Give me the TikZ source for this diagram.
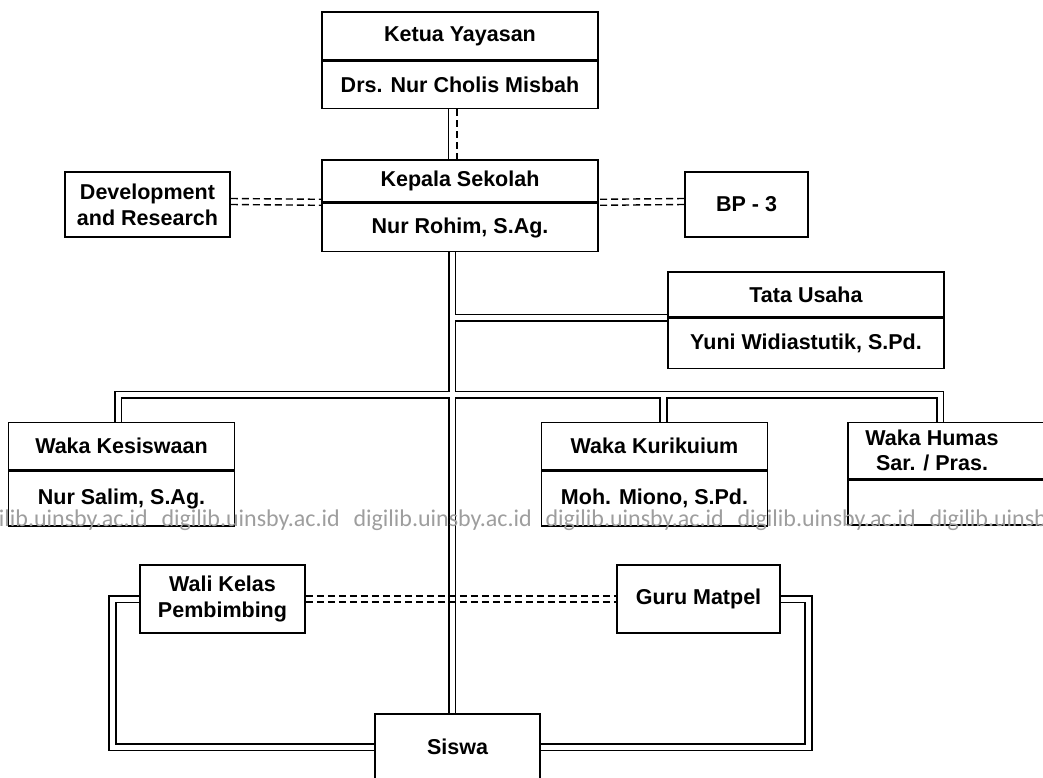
\documentclass[tikz,border=0pt]{standalone}
\usepackage{fontspec}
\setmainfont{Liberation Sans}
\newfontfamily\wmfont{Carlito}
\usetikzlibrary{
    positioning,
    calc,
    backgrounds,
}
\tikzset{
    % Box styles
    unit/.style={rectangle, draw, line width=1.6pt, fill=white, inner sep=0pt,
                 align=center, font=\bfseries\fontsize{21.5}{25.8}\selectfont},
    staff/.style={unit, minimum width=276pt},
    waka/.style={unit, minimum width=226pt},
    % Connector styles
    link/.style={line width=1.4pt},
    dash link/.style={link, dash pattern=on 7pt off 4pt},
    pipe/.style={line width=#1, line join=miter},
    % Watermark
    watermark/.style={anchor=base west, text=black!38,
                      font=\wmfont\fontsize{24}{28}\selectfont},
}

\begin{document}
\begin{tikzpicture}[x=1pt, y=-1pt]
    \useasboundingbox (0,0) rectangle (1043,778);

    % Ketua Yayasan
    \node[staff, minimum height=48pt] (ketua) at (460,36) {Ketua Yayasan};
    \node[staff, minimum height=47pt, below=0pt of ketua] (ketuaN) {Drs. Nur Cholis Misbah};

    % Kepala Sekolah
    \node[staff, minimum height=42pt] (kepala) at (460,181) {Kepala Sekolah};
    \node[staff, minimum height=48pt, below=0pt of kepala] (kepalaN) {Nur Rohim, S.Ag.};
    \node[unit, minimum width=165pt, minimum height=65pt] (dev) at (147.5,204.5) {Development\\and Research};
    \node[unit, minimum width=123pt, minimum height=65pt] (bp) at (746.5,204.5) {BP - 3};

    % Tata Usaha
    \node[staff, minimum height=45pt] (tata) at (806,294.5) {Tata Usaha};
    \node[staff, minimum height=50pt, below=0pt of tata] (tataN) {Yuni Widiastutik, S.Pd.};

    % Waka
    \node[waka, minimum height=47pt] (kesis) at (121.5,446) {Waka Kesiswaan};
    \node[waka, minimum height=55pt, below=0pt of kesis] (kesisN) {Nur Salim, S.Ag.};
    \node[waka, minimum height=47pt] (kuri) at (654.5,446) {Waka Kurikuium};
    \node[waka, minimum height=55pt, below=0pt of kuri] (kuriN) {Moh. Miono, S.Pd.};
    \node[waka, minimum width=202pt, minimum height=56pt] (humas) at (949,450.5) {};
    \node[waka, minimum width=202pt, minimum height=45pt, below=0pt of humas] (humasN) {};
    \node[unit, draw=none, fill=none] (humasT) at (932,450.5) {Waka Humas\\Sar. / Pras.};

    % Wali, Guru, Siswa
    \node[unit, minimum width=165pt, minimum height=68pt] (wali) at (222.5,599) {Wali Kelas\\Pembimbing};
    \node[unit, minimum width=163pt, minimum height=68pt] (guru) at (698.5,599) {Guru Matpel};
    \node[unit, minimum width=165pt, minimum height=66pt] (siswa) at (457.5,747) {Siswa};

    % Double-line pipes
    \coordinate (trunk) at ($(kepalaN.south)+(-8,0)$);
    \coordinate (bus) at ($(trunk)+(0,142.5)$);
    \begin{scope}[on background layer]
        \foreach \wd/\col in {8.6pt/black, 5pt/white} {
            \draw[pipe=\wd, draw=\col] (trunk) -- (trunk |- siswa.north);
            \draw[pipe=\wd, draw=\col] (trunk |- tata.south west) -- (tata.south west);
            \draw[pipe=\wd, draw=\col] ($(kesis.north)+(-3.5,0)$) |- (bus) -| ($(humas.north)+(-9,0)$);
            \draw[pipe=\wd, draw=\col] ($(kuri.north)+(9,0)$) |- (bus);
            \draw[pipe=\wd, draw=\col] (wali.west) -- ++(-26.5,0) |- (siswa.west);
            \draw[pipe=\wd, draw=\col] (guru.east) -- ++(27.5,0) |- (siswa.east);
        }
    \end{scope}

    % Staff lines
    \draw[link] ($(ketuaN.south)+(-11.5,0)$) -- ($(kepala.north)+(-11.5,0)$);
    \draw[dash link] ($(ketuaN.south)+(-3,0)$) -- ($(kepala.north)+(-3,0)$);
    \foreach \dy in {-6,0} {
        \draw[dash link] ($(dev.east)+(0,\dy)$) -- ($(kepala.south west)+(0,\dy+2.5)$);
        \draw[dash link] ($(bp.west)+(0,\dy)$) -- ($(kepala.south east)+(0,\dy+2.5)$);
    }
    \foreach \dy in {-3,3} {
        \draw[dash link] ($(wali.east)+(0,\dy)$) -- ($(guru.west)+(0,\dy)$);
    }

    % Watermark
    \foreach \i in {0,...,5} {
        \node[watermark] (wm\i) at (-34+192*\i,526) {digilib.uinsby.ac.id};
    }
\end{tikzpicture}
\end{document}
